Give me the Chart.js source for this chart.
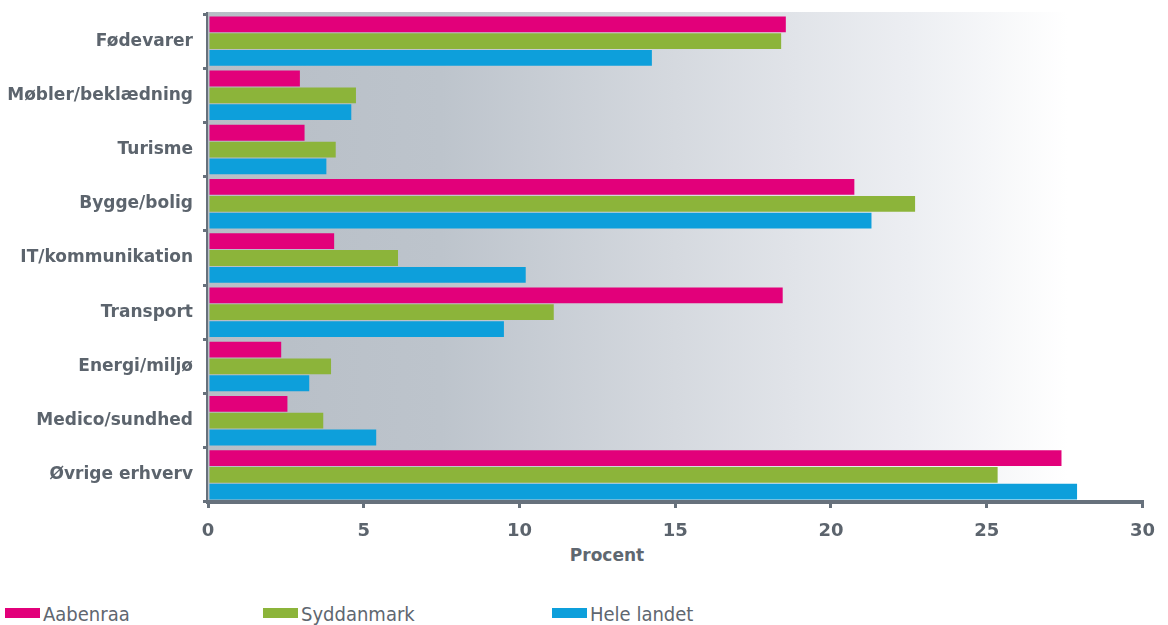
<!DOCTYPE html>
<html>
<head>
<meta charset="utf-8">
<script src="https://cdn.jsdelivr.net/npm/chart.js@4.4.1/dist/chart.umd.min.js"></script>
<style>
    body { margin: 0; background: #ffffff; }
    #wrap { position: relative; width: 1168px; height: 625px; }
    #chartBox { position: absolute; left: 0; top: 0; width: 1168px; height: 545px; }
    #axisTitle { position: absolute; left: 557px; top: 545px; width: 100px; text-align: center;
        font: bold 17px "DejaVu Sans", sans-serif; color: #5f6770; }
    .legendItem { position: absolute; top: 602px; font: 20px "DejaVu Sans Condensed", "DejaVu Sans", sans-serif; color: #5f6770; }
    .legendItem span { display: inline-block; width: 35px; height: 10px; margin-right: 3px; vertical-align: 3px; }
</style>
</head>
<body>
<div id="wrap">
    <div id="chartBox"><canvas id="myChart"></canvas></div>
    <div id="axisTitle">Procent</div>
    <div id="legend"></div>
</div>
<script>
const categories = ["Fødevarer", "Møbler/beklædning", "Turisme", "Bygge/bolig", "IT/kommunikation",
    "Transport", "Energi/miljø", "Medico/sundhed", "Øvrige erhverv"];
const seriesNames = ["Aabenraa", "Syddanmark", "Hele landet"];
const aabenraa = [18.55, 2.95, 3.1, 20.75, 4.05, 18.45, 2.35, 2.55, 27.4];
const syddanmark = [18.4, 4.75, 4.1, 22.7, 6.1, 11.1, 3.95, 3.7, 25.35];
const heleLandet = [14.25, 4.6, 3.8, 21.3, 10.2, 9.5, 3.25, 5.4, 27.9];
const xTicks = [0, 5, 10, 15, 20, 25, 30];
const colors = ["#e2007a", "#8cb43a", "#0d9fdb"];

const axisGrey = "#67717c";
const textGrey = "#5c646d";

const backgroundPlugin = {
    id: "plotBackground",
    beforeDatasetsDraw(chart) {
        const { ctx, chartArea } = chart;
        const grad = ctx.createLinearGradient(chartArea.left, 0, chartArea.right, 0);
        grad.addColorStop(0, "#b7bec6");
        grad.addColorStop(0.25, "#bdc4cc");
        grad.addColorStop(0.5, "#d5d9df");
        grad.addColorStop(0.75, "#eceef2");
        grad.addColorStop(0.92, "#ffffff");
        grad.addColorStop(1, "#ffffff");
        ctx.save();
        ctx.fillStyle = grad;
        ctx.fillRect(chartArea.left, chartArea.top - 2, chartArea.width, chartArea.height);
        ctx.restore();
    }
};

const values = [aabenraa, syddanmark, heleLandet];

new Chart("myChart", {
    type: "bar",
    data: {
        labels: categories,
        datasets: seriesNames.map((name, i) => ({
            label: name,
            data: values[i],
            backgroundColor: colors[i],
            borderWidth: 0,
            barPercentage: 0.94,
            categoryPercentage: 0.93
        }))
    },
    options: {
        indexAxis: "y",
        responsive: true,
        maintainAspectRatio: false,
        animation: false,
        layout: { padding: { top: 14, right: 20, left: 0, bottom: 0 } },
        scales: {
            x: {
                min: 0,
                max: 30,
                afterFit: scale => { scale.height = 43; },
                afterBuildTicks: scale => { scale.ticks = xTicks.map(v => ({ value: v })); },
                border: { color: axisGrey, width: 4 },
                grid: { drawOnChartArea: false, tickLength: 6, color: axisGrey, lineWidth: 3 },
                ticks: {
                    color: textGrey,
                    padding: 13,
                    font: { family: "DejaVu Sans", size: 18, weight: "bold" }
                }
            },
            y: {
                afterFit: scale => {
                    scale.width = 208;
                    scale.paddingTop = 0;
                    scale.paddingBottom = 0;
                },
                border: { color: axisGrey, width: 4 },
                grid: { offset: true, drawOnChartArea: false, tickLength: 5, color: axisGrey, lineWidth: 3 },
                ticks: {
                    color: textGrey,
                    padding: 10,
                    font: { family: "DejaVu Sans", size: 17, weight: "bold" }
                }
            }
        },
        plugins: {
            legend: { display: false },
            tooltip: { enabled: false }
        }
    },
    plugins: [backgroundPlugin]
});

const legendEl = document.getElementById("legend");
const legendLeft = [5, 263, 552];
seriesNames.forEach((name, i) => {
    const item = document.createElement("div");
    item.className = "legendItem";
    item.style.left = legendLeft[i] + "px";
    item.innerHTML = `<span style="background:${colors[i]}"></span>${name}`;
    legendEl.appendChild(item);
});
</script>
</body>
</html>
